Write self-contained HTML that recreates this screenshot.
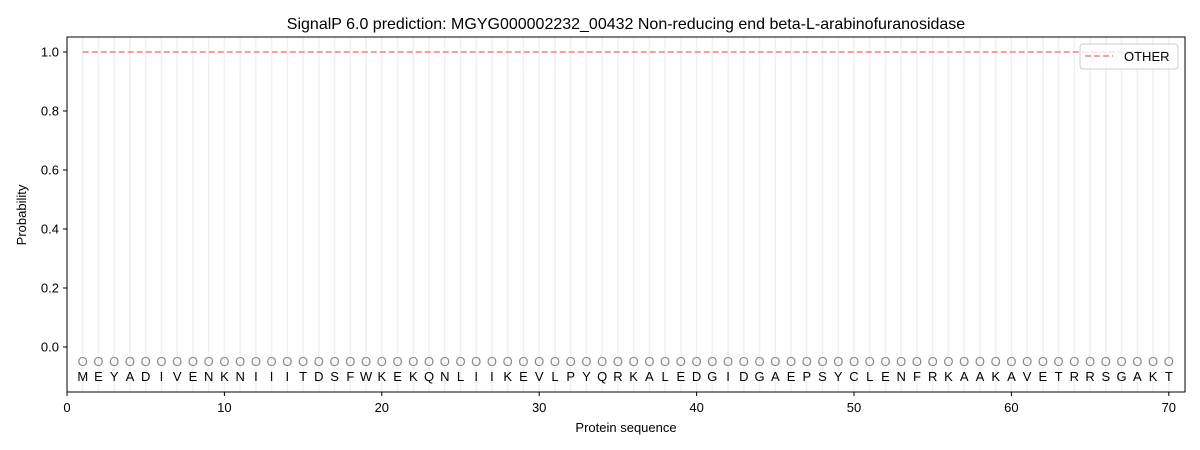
<!DOCTYPE html>
<html><head><style>body{margin:0;background:#fff}svg{display:block;font-family:"Liberation Sans","DejaVu Sans",sans-serif}</style></head>
<body><svg id="s" width="1200" height="450" xmlns="http://www.w3.org/2000/svg"></svg>
<script>
const s=document.getElementById('s');
const seq="MEYADIVENKNIIITDSFWKEKQNLIIKEVLPYQRKALEDGIDGAEPSYCLENFRKAAKAVETRRSGAKT";
const X=v=>67+v*15.74, Y=v=>347-v*295;
let h='';
h+='<text x="626" y="29" font-size="16" text-anchor="middle">SignalP 6.0 prediction: MGYG000002232_00432 Non-reducing end beta-L-arabinofuranosidase</text>';
for(let i=1;i<=70;i++){h+=`<line x1="${X(i)}" y1="37" x2="${X(i)}" y2="392" stroke="#f0f0f0" stroke-width="1.5"/>`;}
h+=`<line x1="${X(1)}" y1="${Y(1)}" x2="${X(70)}" y2="${Y(1)}" stroke="#f08080" stroke-width="1.5" stroke-dasharray="6,3"/>`;
for(let i=1;i<=70;i++){h+=`<text x="${X(i)}" y="366" font-size="13" fill="#888" text-anchor="middle">O</text><text x="${X(i)}" y="381" font-size="13" text-anchor="middle">${seq[i-1]}</text>`;}
h+='<rect x="67" y="37" width="1118" height="355" fill="none" stroke="#000" stroke-width="1"/>';
for(let v=0;v<=70;v+=10){h+=`<line x1="${X(v)}" y1="392" x2="${X(v)}" y2="396" stroke="#000"/><text x="${X(v)}" y="412" font-size="13" text-anchor="middle">${v}</text>`;}
for(let k=0;k<=5;k++){let v=k*0.2;h+=`<line x1="63" y1="${Y(v)}" x2="67" y2="${Y(v)}" stroke="#000"/><text x="59" y="${Y(v)+4.5}" font-size="13" text-anchor="end">${v.toFixed(1)}</text>`;}
h+='<text x="626" y="432" font-size="13" text-anchor="middle">Protein sequence</text>';
h+='<text transform="translate(26,215) rotate(-90)" font-size="13" text-anchor="middle">Probability</text>';
h+='<rect x="1080" y="44" width="98" height="25" rx="3" fill="#fff" fill-opacity="0.8" stroke="#ccc"/>';
h+='<line x1="1085" y1="56" x2="1113" y2="56" stroke="#f08080" stroke-width="1.5" stroke-dasharray="6,3"/>';
h+='<text x="1124" y="61" font-size="13">OTHER</text>';
s.innerHTML=h;
</script></body></html>
